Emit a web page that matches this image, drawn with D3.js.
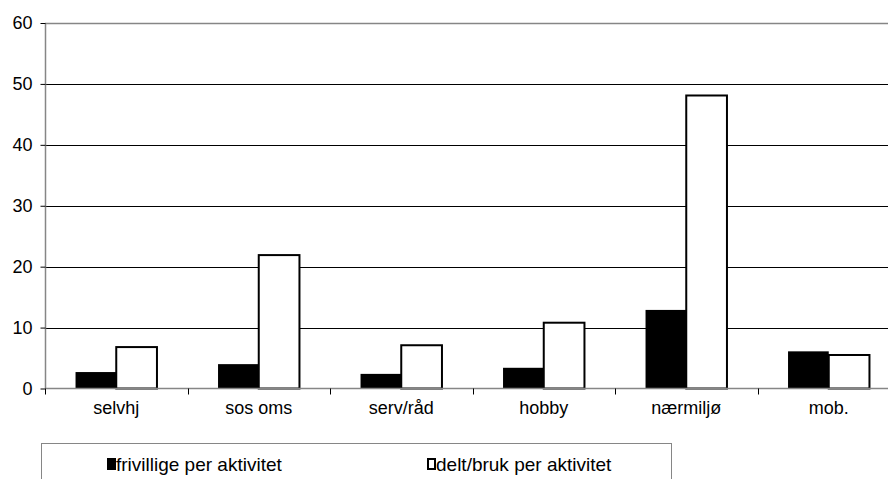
<!DOCTYPE html>
<html>
<head>
<meta charset="utf-8">
<script src="https://cdn.jsdelivr.net/npm/d3@7"></script>
<style>
  html, body { margin: 0; padding: 0; background: #fff; }
  svg { display: block; font-family: "Liberation Sans", Arial, sans-serif; }
</style>
</head>
<body>
<svg id="chart" width="888" height="479"></svg>
<script>
// Activity categories
const categories = ["selvhj", "sos oms", "serv/råd", "hobby", "nærmiljø", "mob."];
// Volunteers per activity
const frivillige = [2.7, 4.0, 2.4, 3.4, 12.9, 6.1];
// Participants/users per activity
const deltBruk = [6.8, 21.9, 7.1, 10.8, 48.1, 5.5];
const yTicks = [0, 10, 20, 30, 40, 50, 60];
const seriesNames = ["frivillige per aktivitet", "delt/bruk per aktivitet"];

const svg = d3.select("#chart");
const plot = { left: 45, right: 900, top: 23, bottom: 388.5 };
const axisGrey = "#868686";
const fontSize = 18;

const x = d3.scaleBand().domain(categories).range([plot.left, plot.right]).paddingInner(0).paddingOuter(0);
const y = d3.scaleLinear().domain([0, 60]).range([plot.bottom, plot.top]);

// Gridlines
svg.append("g").selectAll("line")
  .data(yTicks.filter(t => t > 0 && t < 60))
  .join("line")
  .attr("x1", plot.left).attr("x2", plot.right)
  .attr("y1", d => Math.round(y(d)) + 0.5).attr("y2", d => Math.round(y(d)) + 0.5)
  .attr("stroke", "#000").attr("stroke-width", 1);

// Plot area top border
svg.append("line")
  .attr("x1", plot.left).attr("x2", plot.right)
  .attr("y1", Math.round(y(60)) + 0.5).attr("y2", Math.round(y(60)) + 0.5)
  .attr("stroke", axisGrey).attr("stroke-width", 1.5);

// Bars: each group takes 2/3.5 of its band, centred
const barW = x.bandwidth() / 3.5;
const groups = svg.append("g").selectAll("g")
  .data(categories)
  .join("g")
  .attr("transform", d => `translate(${x(d) + x.bandwidth() / 2},0)`);

groups.append("rect")
  .attr("x", -barW)
  .attr("width", barW)
  .attr("y", (d, i) => y(frivillige[i]))
  .attr("height", (d, i) => y(0) - y(frivillige[i]))
  .attr("fill", "#000");

groups.append("rect")
  .attr("x", 0)
  .attr("width", barW)
  .attr("y", (d, i) => y(deltBruk[i]))
  .attr("height", (d, i) => y(0) - y(deltBruk[i]))
  .attr("fill", "#fff")
  .attr("stroke", "#000")
  .attr("stroke-width", 2);

// Y axis
const yAxis = d3.axisLeft(y).tickValues(yTicks).tickSize(5).tickPadding(8).tickFormat(d3.format("d"));
const gy = svg.append("g").attr("transform", `translate(${plot.left + 0.5},0)`).call(yAxis);
gy.select(".domain").attr("stroke", axisGrey).attr("stroke-width", 1.5).attr("d", `M0,${y(60)}V${y(0)}`);
gy.selectAll(".tick line").attr("stroke", "#000");
gy.selectAll(".tick text").attr("font-size", fontSize).attr("fill", "#000")
  .attr("font-family", "'Liberation Sans', Arial, sans-serif");

// X axis baseline and category ticks at band edges
svg.append("line")
  .attr("x1", plot.left).attr("x2", plot.right)
  .attr("y1", plot.bottom).attr("y2", plot.bottom)
  .attr("stroke", axisGrey).attr("stroke-width", 1.5);

const edges = categories.map(c => x(c)).concat([plot.right]);
svg.append("g").selectAll("line")
  .data(edges)
  .join("line")
  .attr("x1", d => Math.round(d) + 0.5).attr("x2", d => Math.round(d) + 0.5)
  .attr("y1", plot.bottom).attr("y2", plot.bottom + 6)
  .attr("stroke", "#000");

svg.append("g").selectAll("text")
  .data(categories)
  .join("text")
  .attr("x", d => x(d) + x.bandwidth() / 2)
  .attr("y", plot.bottom + 25)
  .attr("text-anchor", "middle")
  .attr("font-size", fontSize)
  .attr("fill", "#000")
  .text(d => d);

// Legend
const legend = svg.append("g");
legend.append("rect")
  .attr("x", 41.5).attr("y", 443.5)
  .attr("width", 630).attr("height", 60)
  .attr("fill", "none").attr("stroke", axisGrey).attr("stroke-width", 1);

const legendItems = [
  { name: seriesNames[0], fill: "#000", x: 107 },
  { name: seriesNames[1], fill: "#fff", x: 427 }
];
const li = legend.selectAll("g.item").data(legendItems).join("g").attr("class", "item")
  .attr("transform", d => `translate(${d.x},0)`);
li.append("rect")
  .attr("x", 1).attr("y", 459).attr("width", 7).attr("height", 10)
  .attr("fill", d => d.fill).attr("stroke", "#000").attr("stroke-width", 2);
li.append("text")
  .attr("x", 9).attr("y", 471)
  .attr("font-size", 19).attr("fill", "#000")
  .text(d => d.name);
</script>
</body>
</html>
